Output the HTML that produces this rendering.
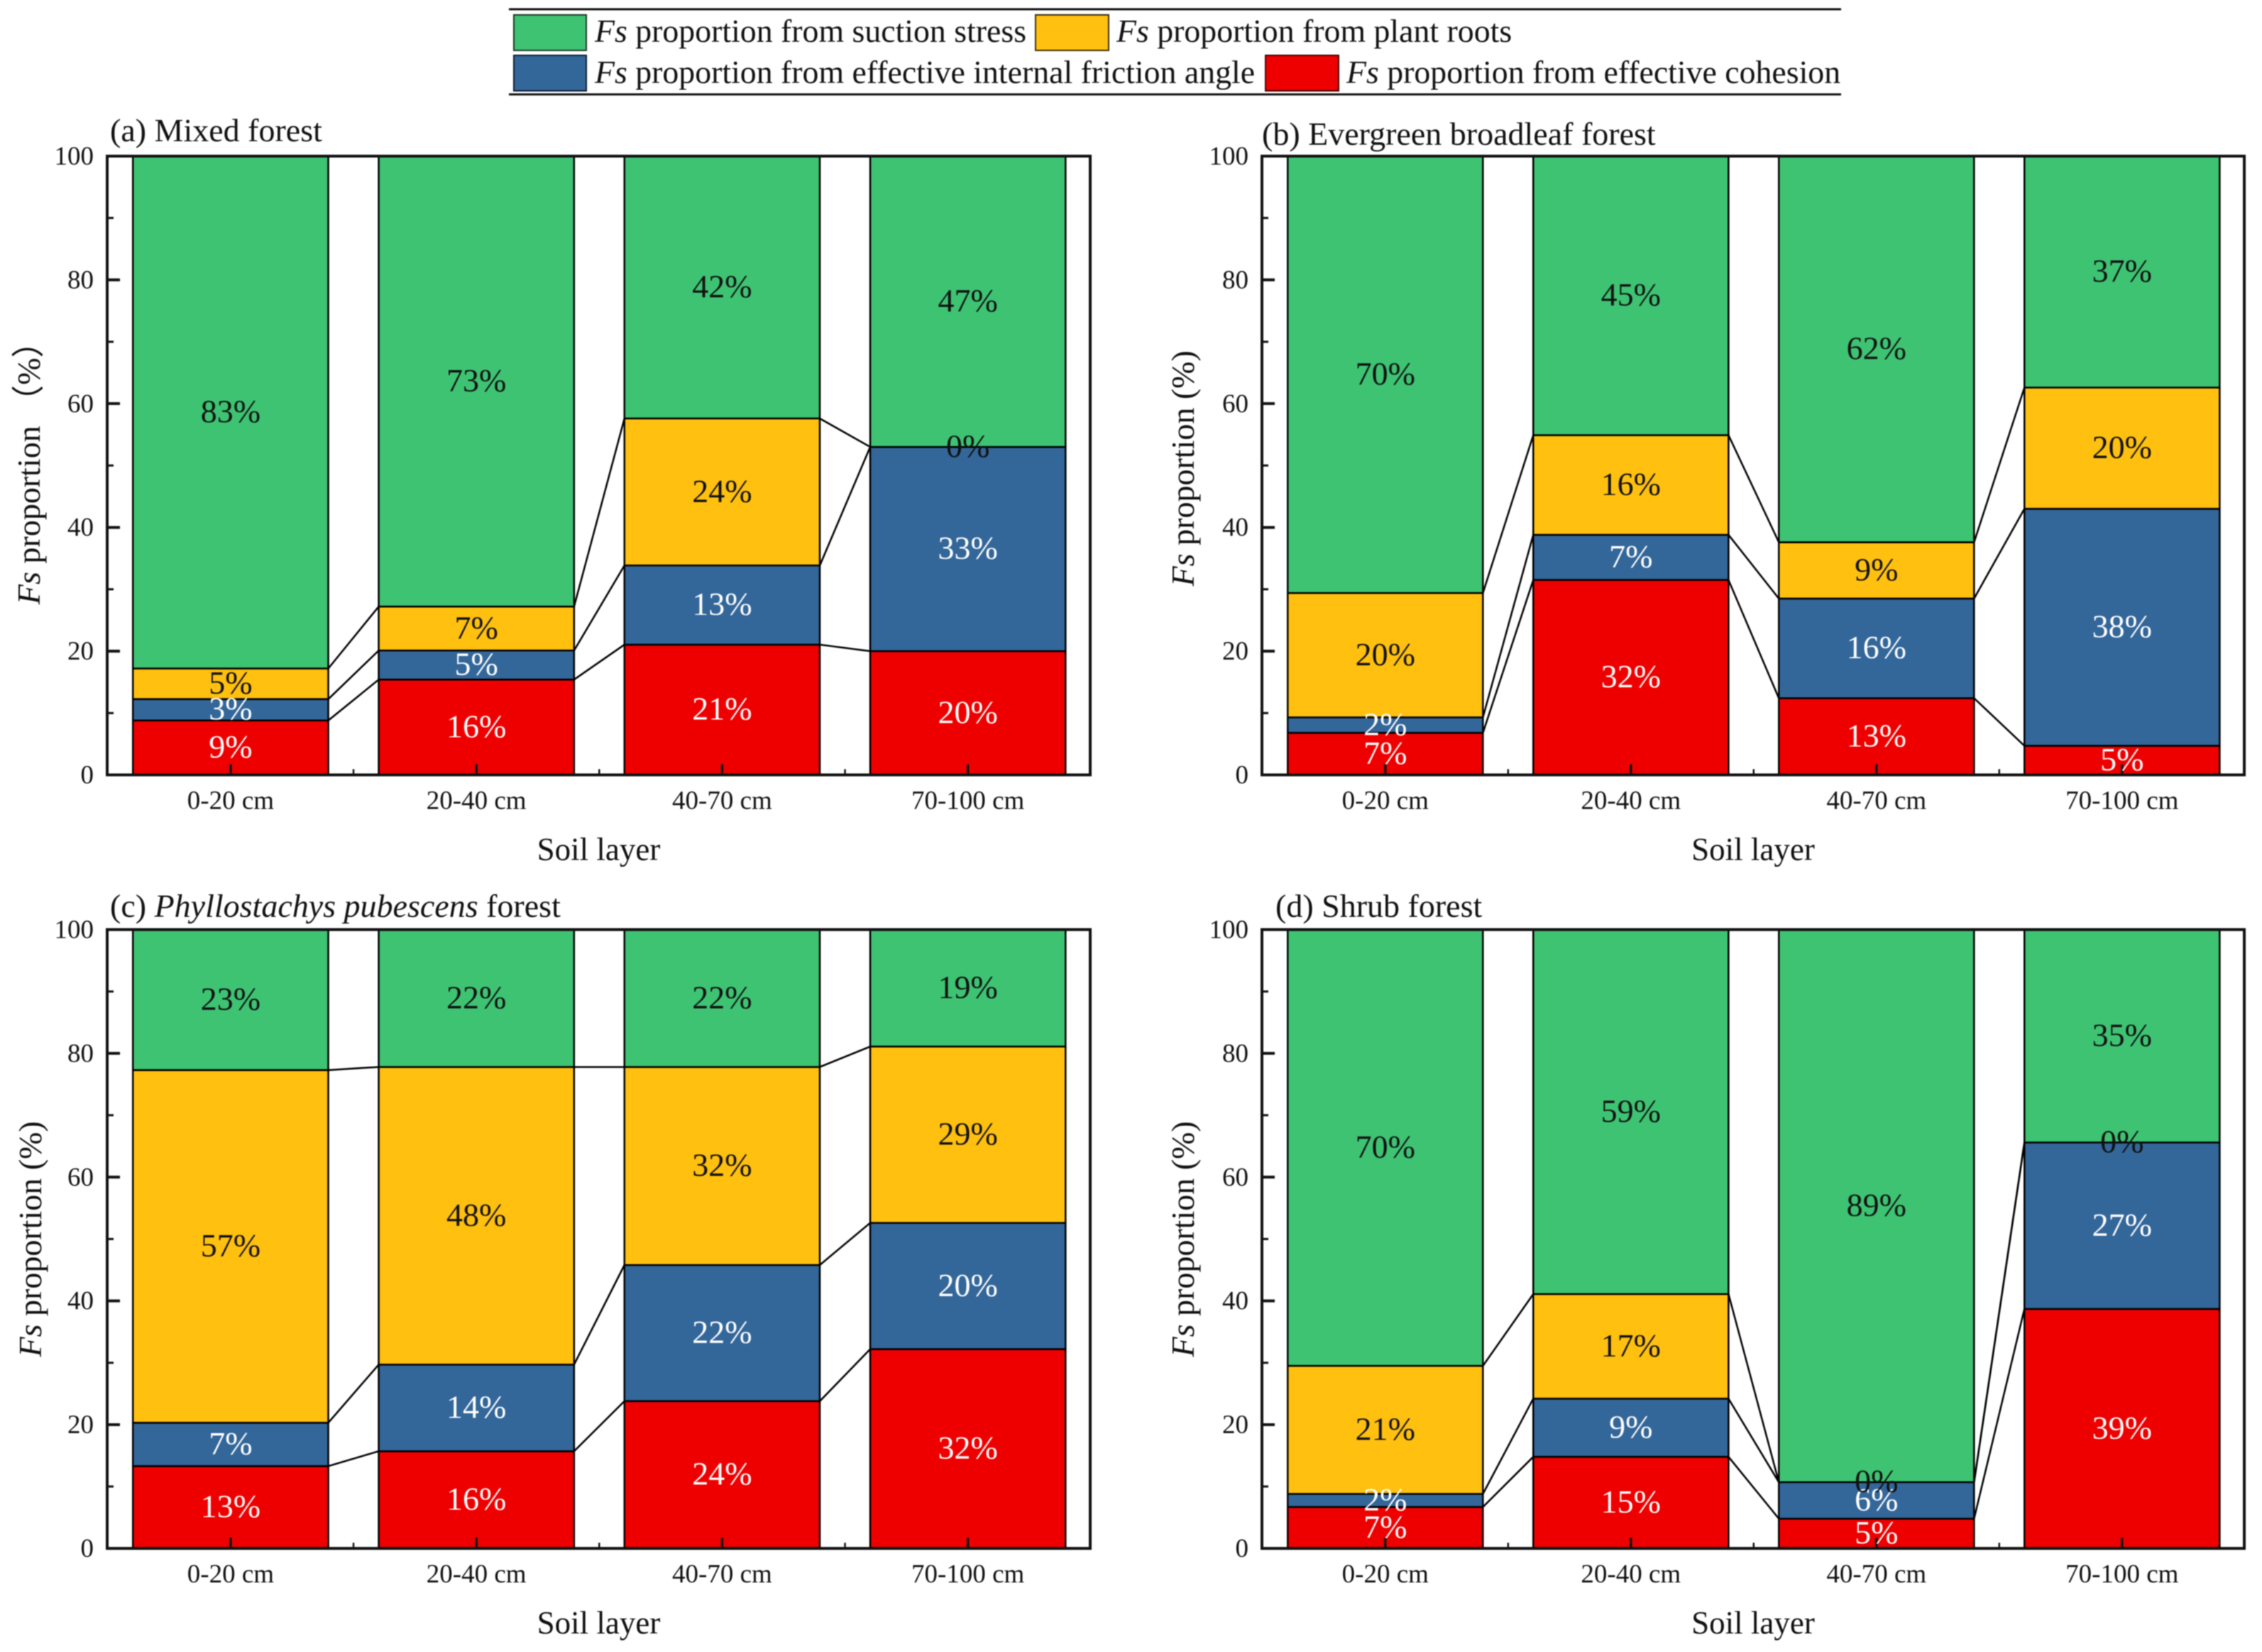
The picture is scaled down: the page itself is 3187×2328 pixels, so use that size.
<!DOCTYPE html>
<html lang="en">
<head>
<meta charset="utf-8">
<title>Fs proportion by soil layer</title>
<style>
html,body{margin:0;padding:0;background:#fff;}
#chart{display:block;width:3187px;height:2328px;filter:blur(.8px);}
text{font-family:"Liberation Serif","Noto Sans CJK SC",serif;fill:#111;}
</style>
</head>
<body>
<svg id="chart" xmlns="http://www.w3.org/2000/svg" width="3187" height="2328" viewBox="0 0 3187 2328">
  <rect x="0" y="0" width="3187" height="2328" fill="#fff"/>
  <g id="legend">
    <line x1="717" y1="13" x2="2594" y2="13" stroke="#111" stroke-width="3"/>
    <line x1="717" y1="133" x2="2594" y2="133" stroke="#111" stroke-width="3"/>
    <rect x="724" y="21" width="102" height="50" fill="#3EC373" stroke="#1a3a25" stroke-width="2"/>
    <text x="838" y="59" font-size="45.8"><tspan font-style="italic">Fs</tspan> proportion from suction stress</text>
    <rect x="1459" y="21" width="103" height="50" fill="#FFC010" stroke="#3a2c05" stroke-width="2"/>
    <text x="1573" y="59" font-size="45.8"><tspan font-style="italic">Fs</tspan> proportion from plant roots</text>
    <rect x="724" y="78" width="102" height="50" fill="#336699" stroke="#0d1f33" stroke-width="2"/>
    <text x="838" y="117" font-size="45.8"><tspan font-style="italic">Fs</tspan> proportion from effective internal friction angle</text>
    <rect x="1783" y="78" width="103" height="50" fill="#EE0000" stroke="#4a0000" stroke-width="2"/>
    <text x="1897" y="117" font-size="45.8"><tspan font-style="italic">Fs</tspan> proportion from effective cohesion</text>
  </g>
  <text x="155" y="199" font-size="46">(a) Mixed forest</text>
  <text x="1778" y="204" font-size="46">(b) Evergreen broadleaf forest</text>
  <text x="155" y="1292" font-size="46">(c) <tspan font-style="italic">Phyllostachys pubescens</tspan> forest</text>
  <text x="1797" y="1292" font-size="46">(d) Shrub forest</text>
  <text transform="translate(56,655) rotate(-90)" text-anchor="middle" font-size="46"><tspan font-style="italic">Fs</tspan> proportion （%）</text>
  <text transform="translate(1682,660) rotate(-90)" text-anchor="middle" font-size="46"><tspan font-style="italic">Fs</tspan> proportion (%)</text>
  <text transform="translate(58,1746) rotate(-90)" text-anchor="middle" font-size="46"><tspan font-style="italic">Fs</tspan> proportion (%)</text>
  <text transform="translate(1682,1746) rotate(-90)" text-anchor="middle" font-size="46"><tspan font-style="italic">Fs</tspan> proportion (%)</text>
</svg>
<script>
const categories = ['0-20 cm', '20-40 cm', '40-70 cm', '70-100 cm'];
const yMajorTicks = [0, 20, 40, 60, 80, 100];
const yMinorTicks = [10, 30, 50, 70, 90];

const panelACohesion = [8.8, 15.4, 21.05, 20];
const panelAFriction = [3.45, 4.7, 12.8, 33];
const panelARoots = [4.95, 7.1, 23.75, 0];
const panelASuction = [82.8, 72.8, 42.4, 47];
const panelACohesionLabels = ['9%', '16%', '21%', '20%'];
const panelAFrictionLabels = ['3%', '5%', '13%', '33%'];
const panelARootsLabels = ['5%', '7%', '24%', '0%'];
const panelASuctionLabels = ['83%', '73%', '42%', '47%'];

const panelBCohesion = [6.8, 31.5, 12.4, 4.7];
const panelBFriction = [2.5, 7.3, 16.1, 38.3];
const panelBRoots = [20.1, 16.1, 9.1, 19.6];
const panelBSuction = [70.6, 45.1, 62.4, 37.4];
const panelBCohesionLabels = ['7%', '32%', '13%', '5%'];
const panelBFrictionLabels = ['2%', '7%', '16%', '38%'];
const panelBRootsLabels = ['20%', '16%', '9%', '20%'];
const panelBSuctionLabels = ['70%', '45%', '62%', '37%'];

const panelCCohesion = [13.3, 15.7, 23.8, 32.2];
const panelCFriction = [7, 14, 22, 20.4];
const panelCRoots = [57, 48.1, 32, 28.5];
const panelCSuction = [22.7, 22.2, 22.2, 18.9];
const panelCCohesionLabels = ['13%', '16%', '24%', '32%'];
const panelCFrictionLabels = ['7%', '14%', '22%', '20%'];
const panelCRootsLabels = ['57%', '48%', '32%', '29%'];
const panelCSuctionLabels = ['23%', '22%', '22%', '19%'];

const panelDCohesion = [6.7, 14.8, 4.8, 38.7];
const panelDFriction = [2.1, 9.4, 5.9, 26.9];
const panelDRoots = [20.7, 16.9, 0, 0];
const panelDSuction = [70.5, 58.9, 89.3, 34.4];
const panelDCohesionLabels = ['7%', '15%', '5%', '39%'];
const panelDFrictionLabels = ['2%', '9%', '6%', '27%'];
const panelDRootsLabels = ['21%', '17%', '0%', '0%'];
const panelDSuctionLabels = ['70%', '59%', '89%', '35%'];

const NS = 'http://www.w3.org/2000/svg';
const svg = document.getElementById('chart');

function make(tag, props, parent) {
  const el = document.createElementNS(NS, tag);
  for (const k in props) el.setAttribute(k, props[k]);
  parent.appendChild(el);
  return el;
}

function drawPanel(id, left, top, right, bottom, series) {
  const group = make('g', {}, svg);
  
  
  const step = (right - left) / categories.length;
  const xScale = i => left + (i + 0.5) * step + 0.8;
  const yScale = v => bottom - (v / 100) * (bottom - top);
  const barWidth = step * 0.795;

  yMajorTicks.forEach(v => {
    const tick = make('line', {x1: left, x2: left + 18, y1: yScale(v), y2: yScale(v), stroke: '#111', 'stroke-width': 4}, group);
    
    
    const label = make('text', {x: left - 19, y: yScale(v) + 12, 'text-anchor': 'end', 'font-size': 37}, group);
    label.textContent = String(v);
    
    
  });
  yMinorTicks.forEach(v => {
    const tick = make('line', {x1: left, x2: left + 9, y1: yScale(v), y2: yScale(v), stroke: '#111', 'stroke-width': 3}, group);
    
    
  });

  const tops = series.map(() => []);
  const segmentLabels = [];
  categories.forEach((cat, i) => {
    let base = 0;
    series.forEach((s, si) => {
      const val = s.values[i];
      const next = base + val;
      const bar = make('rect', {
        x: xScale(i) - barWidth / 2,
        y: yScale(next),
        width: barWidth,
        height: Math.max(0, yScale(base) - yScale(next)),
        fill: s.color,
        stroke: '#000',
        'stroke-width': 2.5
      }, group);
      
      
      segmentLabels.push({i: i, mid: base + val / 2, text: s.labels[i], fill: s.textColor, key: s.key});
      tops[si][i] = next;
      base = next;
    });
  });

  for (let si = 0; si < series.length - 1; si++) {
    for (let i = 0; i < categories.length - 1; i++) {
      const link = make('line', {
        x1: xScale(i) + barWidth / 2,
        y1: yScale(tops[si][i]),
        x2: xScale(i + 1) - barWidth / 2,
        y2: yScale(tops[si][i + 1]),
        stroke: '#000',
        'stroke-width': 2.5
      }, group);
      
      
    }
  }

  categories.forEach((cat, i) => {
    const tick = make('line', {x1: xScale(i), x2: xScale(i), y1: bottom, y2: bottom - 15, stroke: '#111', 'stroke-width': 3.5}, group);
    
    
    const label = make('text', {x: xScale(i), y: bottom + 48, 'text-anchor': 'middle', 'font-size': 37}, group);
    label.textContent = cat;
    
    
    if (i < categories.length - 1) {
      const minor = make('line', {x1: xScale(i + 0.5), x2: xScale(i + 0.5), y1: bottom, y2: bottom - 8, stroke: '#111', 'stroke-width': 2.5}, group);
      
      
    }
  });

  const frame = make('rect', {x: left, y: top, width: right - left, height: bottom - top, fill: 'none', stroke: '#111', 'stroke-width': 4}, group);
  
  

  segmentLabels.forEach(d => {
    const t = make('text', {x: xScale(d.i), y: yScale(d.mid) + 14, 'text-anchor': 'middle', 'font-size': 46}, group);
    t.style.fill = d.fill;
    t.textContent = d.text;
    
    
  });

  const title = make('text', {x: (left + right) / 2, y: bottom + 120, 'text-anchor': 'middle', 'font-size': 45}, group);
  title.textContent = 'Soil layer';
  
  
}

function seriesFor(cohesion, cohesionLabels, friction, frictionLabels, roots, rootsLabels, suction, suctionLabels) {
  return [
    {key: 'effective-cohesion', color: '#EE0000', textColor: '#fff', values: cohesion, labels: cohesionLabels},
    {key: 'friction-angle', color: '#336699', textColor: '#fff', values: friction, labels: frictionLabels},
    {key: 'plant-roots', color: '#FFC010', textColor: '#111', values: roots, labels: rootsLabels},
    {key: 'suction-stress', color: '#3EC373', textColor: '#111', values: suction, labels: suctionLabels}
  ];
}

drawPanel('a', 151, 220, 1536, 1092, seriesFor(panelACohesion, panelACohesionLabels, panelAFriction, panelAFrictionLabels, panelARoots, panelARootsLabels, panelASuction, panelASuctionLabels));
drawPanel('b', 1778, 220, 3162, 1092, seriesFor(panelBCohesion, panelBCohesionLabels, panelBFriction, panelBFrictionLabels, panelBRoots, panelBRootsLabels, panelBSuction, panelBSuctionLabels));
drawPanel('c', 151, 1310, 1536, 2182, seriesFor(panelCCohesion, panelCCohesionLabels, panelCFriction, panelCFrictionLabels, panelCRoots, panelCRootsLabels, panelCSuction, panelCSuctionLabels));
drawPanel('d', 1778, 1310, 3162, 2182, seriesFor(panelDCohesion, panelDCohesionLabels, panelDFriction, panelDFrictionLabels, panelDRoots, panelDRootsLabels, panelDSuction, panelDSuctionLabels));
</script>
</body>
</html>
